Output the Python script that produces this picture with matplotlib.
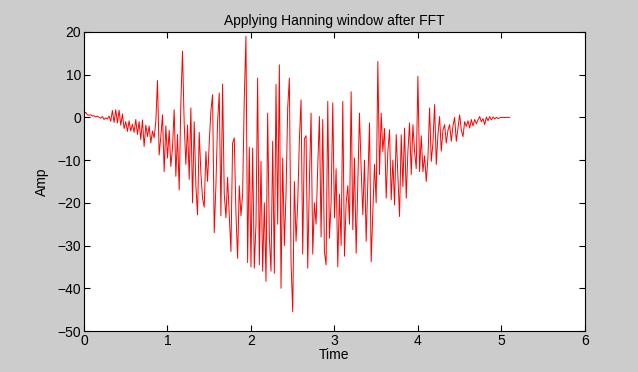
import numpy as np
import matplotlib.pyplot as plt

plt.rcParams['font.family'] = ['Liberation Sans', 'DejaVu Sans']

# sampled amplitude after the windowing step, one value every dt seconds
dt = 0.02
amp = [
    0.8, 1.2, 0.6, 0.5, 0.6, 0.3, 0.4, 0.1, 0.3, 0.0,
    -0.2, 0.2, -0.5, -0.1, -0.4, 0.3, -0.9, 1.6, -1.2, 1.8,
    -1.3, 1.7, -1.8, 0.8, -2.6, -1.0, -3.3, -0.8, -3.2, -1.6,
    -3.5, -0.5, -4.0, -1.0, -5.2, -0.6, -6.8, -1.8, -4.5, -2.0,
    -6.0, -3.2, -4.8, -1.0, 8.6, -8.8, -4.5, 0.6, -12.7, -2.0,
    -9.5, -3.0, -11.5, -7.0, 1.8, -13.8, -4.0, -17.0, 3.5, 15.5,
    -1.5, -11.0, -1.8, -14.5, 2.2, -20.0, -1.0, -16.0, -22.8, -3.5,
    -13.0, -19.0, -21.0, -8.0, -15.0, -6.0, 1.5, 5.3, -27.0, -16.0,
    -1.0, 5.7, -23.0, 7.8, -18.0, -23.5, -14.0, -23.0, -31.4, -6.0,
    -4.8, -22.5, -33.0, -16.0, -23.0, -18.0, 4.5, 19.0, -34.0, -7.0,
    -35.0, -7.2, -35.3, -25.0, 9.2, -34.5, -10.3, -36.0, -20.0, -38.4,
    1.0, -28.0, -36.0, -5.6, -36.5, 7.7, -25.0, 12.3, -40.0, -9.5,
    -30.0, -18.0, 2.2, 9.2, -33.8, -45.5, -15.0, -29.0, -20.0, -5.2,
    4.1, -32.0, -5.0, -4.3, -35.3, -15.0, 1.0, -32.0, -20.0, -25.0,
    -11.5, 0.2, -28.0, -0.5, -31.5, -34.5, 3.75, -28.3, -20.0, 3.4,
    -23.5, -12.0, -35.0, -18.0, -30.0, 3.75, -32.5, -20.0, -16.0, -25.0,
    6.0, -26.3, -9.5, -31.8, -15.0, 1.0, -12.0, -22.8, -10.0, -29.0,
    -15.0, -1.3, -33.8, -22.0, -11.0, -20.0, 13.1, -13.4, 1.0, -8.0,
    -2.6, -18.9, -8.0, -2.9, -19.3, -10.0, -20.5, -4.0, -13.4, -23.2,
    -4.1, -16.2, -2.5, -18.9, -8.0, -1.3, -13.4, -1.7, -8.0, -12.0,
    9.6, -12.7, -4.3, -12.7, -9.0, -15.0, -9.5, 2.2, -10.3, -6.0,
    3.0, -11.0, -4.0, 0.2, -7.9, -3.0, -1.7, -6.0, -3.0, -1.7,
    -5.6, -2.0, 0.0, -5.6, -2.5, 0.6, -3.0, -4.5, -1.0, -2.1,
    -0.8, -2.5, -0.5, -2.0, -0.5, -1.5, -0.6, 0.2, -1.0, -0.3,
    -1.7, 0.1, -0.8, 0.2, -0.6, 0.1, -0.4, 0.0, -0.3, -0.1,
    0.0, 0.0, -0.05, 0.0, 0.0, 0.0,
]
time = np.arange(len(amp)) * dt

xticks = [0, 1, 2, 3, 4, 5, 6]
yticks = [-50, -40, -30, -20, -10, 0, 10, 20]

fig = plt.figure(figsize=(6.38, 3.72), dpi=100, facecolor='#cccccc')
ax = fig.add_axes([0.1317, 0.1102, 0.785, 0.804])
ax.plot(time, amp, color='red', linewidth=0.7)

ax.set_xlim(0, 6)
ax.set_ylim(-50, 20)
ax.set_xticks(xticks)
ax.set_yticks(yticks)
ax.tick_params(direction='in', top=True, right=True, length=4, width=0.8,
               labelsize=10, pad=2)
for s in ax.spines.values():
    s.set_linewidth(0.8)

ax.set_title('Applying Hanning window after FFT', fontsize=10, pad=5)
ax.set_xlabel('Time', fontsize=10, labelpad=0)
ax.set_ylabel('Amp', fontsize=10, labelpad=6)

fig.savefig('out.png', dpi=100, facecolor=fig.get_facecolor())
